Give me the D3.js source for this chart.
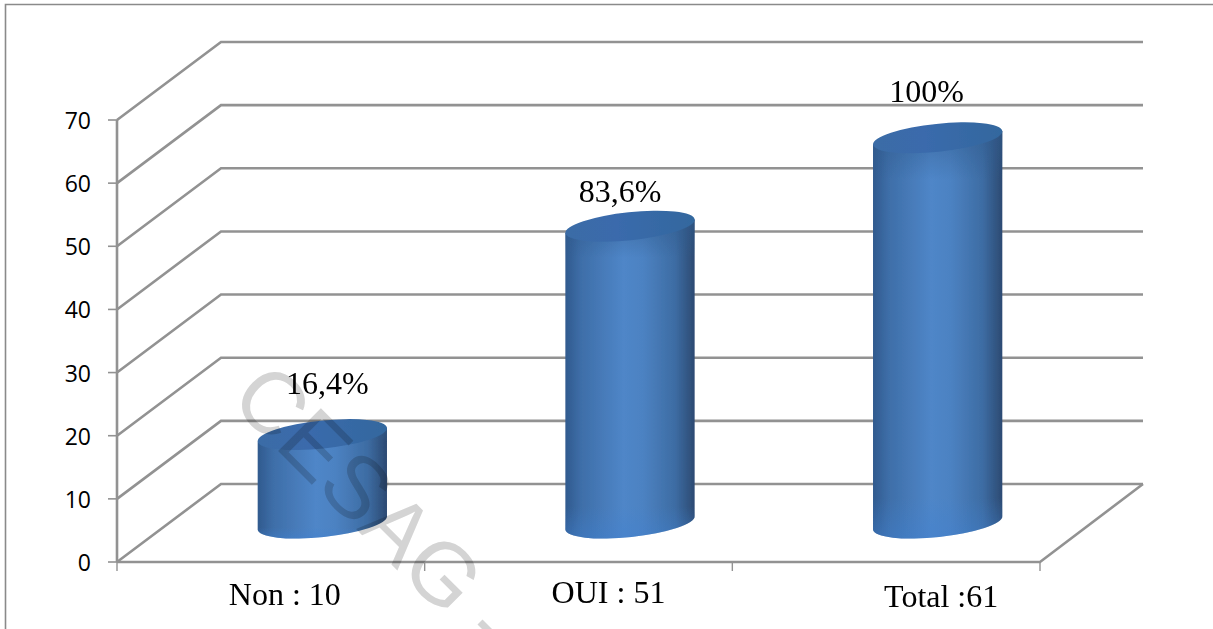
<!DOCTYPE html>
<html><head><meta charset="utf-8">
<script src="https://cdn.jsdelivr.net/npm/d3@7"></script>
<style>html,body{margin:0;padding:0;background:#fff;overflow:hidden}svg{display:block}</style>
</head><body><svg id="c" width="1213" height="629"></svg>
<script>
const categories = ["Non : 10", "OUI : 51", "Total :61"];
const barValues = [14, 47, 61];
const percentLabels = ["16,4%", "83,6%", "100%"];
const yTicks = [0, 10, 20, 30, 40, 50, 60, 70];

const W = 1213, H = 629;
const floorX = [117, 1040], y0 = 562, yTop = 120;
const depthX = 103, depthY = 78;
const gridColor = "#929292";
const rx = 65, ry = 14, tilt = -6;
const percentDx = [5, -10, -11], percentDy = [-42, -25, -37];
const catDx = [14, 30, 55], catDy = [43, 41, 45];

const svg = d3.select("#c");
const y = d3.scaleLinear().domain([0, 70]).range([y0, yTop]);
const x = d3.scaleBand().domain(categories).range(floorX);

const defs = svg.append("defs");
const g1 = defs.append("linearGradient").attr("id", "body");
[[0, "#305a8e"], [0.12, "#3e6ea8"], [0.45, "#4f86c8"], [0.6, "#4c82c2"], [0.85, "#3d6ca3"], [1, "#2c4a72"]]
  .forEach(([o, c]) => g1.append("stop").attr("offset", o).attr("stop-color", c));
const g2 = defs.append("linearGradient").attr("id", "top");
[[0, "#3a6ca6"], [0.4, "#3a6bac"], [1, "#33679e"]]
  .forEach(([o, c]) => g2.append("stop").attr("offset", o).attr("stop-color", c));
const g3 = defs.append("linearGradient").attr("id", "lower").attr("x1", 0).attr("x2", 0).attr("y1", 0).attr("y2", 1);
[[0, "#2f5a8c", 0.55], [0.12, "#2f5a8c", 0], [0.9, "#3f80d0", 0], [1, "#3f80d0", 0.45]]
  .forEach(([o, c, a]) => g3.append("stop").attr("offset", o).attr("stop-color", c).attr("stop-opacity", a));
defs.append("filter").attr("id", "soft").append("feGaussianBlur").attr("stdDeviation", 0.7);
defs.append("filter").attr("id", "softer").append("feGaussianBlur").attr("stdDeviation", 0.35);

// outer frame
svg.append("path").attr("d", `M5.5,${H} V4.5 H${W}`).attr("fill", "none").attr("stroke", "#8a8a8a").attr("stroke-width", 1.6);

// walls and gridlines
const walls = svg.append("g").attr("fill", "none").attr("stroke", gridColor).attr("stroke-width", 2.6).attr("filter", "url(#softer)");
yTicks.forEach(t => {
  walls.append("path").attr("d", `M${floorX[0]},${y(t)} L${floorX[0] + depthX + 1},${y(t) - depthY} H${floorX[1] + depthX}`);
  walls.append("line").attr("x1", floorX[0] - 9).attr("x2", floorX[0]).attr("y1", y(t)).attr("y2", y(t)).attr("stroke-width", 1.6);
});
walls.append("line").attr("x1", floorX[0]).attr("x2", floorX[0]).attr("y1", y(70)).attr("y2", y(0));
walls.append("path").attr("d", `M${floorX[0]},${y0} H${floorX[1]} L${floorX[1] + depthX},${y0 - depthY}`);
[floorX[0], ...categories.map(c => x(c) + x.bandwidth())].forEach(px => {
  walls.append("line").attr("x1", px).attr("x2", px).attr("y1", y0).attr("y2", y0 + 9).attr("stroke-width", 1.4);
});

// y labels
svg.append("g").selectAll("text").data(yTicks).join("text")
  .attr("x", 91).attr("y", d => y(d) + 9).attr("text-anchor", "end")
  .attr("font-family", "'Open Sans',sans-serif").attr("font-size", 23).attr("fill", "#000")
  .text(d => d);

// cylinders
const rad = tilt * Math.PI / 180;
const ex = rx * Math.cos(rad), ey = rx * Math.sin(rad);
const bars = svg.append("g").attr("filter", "url(#soft)");
categories.forEach((c, i) => {
  const cx = x(c) + x.bandwidth() / 2 + depthX / 2;
  const bot = y(0) - depthY / 2, top = y(barValues[i]) - depthY / 2;
  const d = `M${cx - ex},${top - ey} L${cx - ex},${bot - ey} A${rx},${ry} ${tilt} 0 0 ${cx + ex},${bot + ey} L${cx + ex},${top + ey} Z`;
  bars.append("path").attr("d", d).attr("fill", "url(#body)");
  bars.append("path").attr("d", d).attr("fill", "url(#lower)");
  bars.append("ellipse").attr("rx", rx).attr("ry", ry)
    .attr("transform", `translate(${cx},${top}) rotate(${tilt})`).attr("fill", "url(#top)");

  svg.append("text").attr("x", cx + percentDx[i]).attr("y", top + percentDy[i] + 1)
    .attr("text-anchor", "middle").attr("font-family", "'Liberation Serif',serif")
    .attr("font-size", 32).attr("fill", "#000").text(percentLabels[i]);
  svg.append("text").attr("x", x(c) + x.bandwidth() / 2 + catDx[i]).attr("y", y0 + catDy[i])
    .attr("text-anchor", "middle").attr("font-family", "'Liberation Serif',serif")
    .attr("font-size", 32).attr("fill", "#000").text(c);
});

// watermark
const wm = svg.append("g").style("mix-blend-mode", "multiply");
wm.append("text").attr("transform", "translate(228,401) rotate(45)")
  .attr("font-family", "'Liberation Sans',sans-serif").attr("font-size", 88)
  .attr("fill", "#d4d4d4").text("CESAG");
wm.append("line").attr("x1", 480).attr("y1", 622).attr("x2", 492).attr("y2", 634)
  .attr("stroke", "#d4d4d4").attr("stroke-width", 7);
</script></body></html>
